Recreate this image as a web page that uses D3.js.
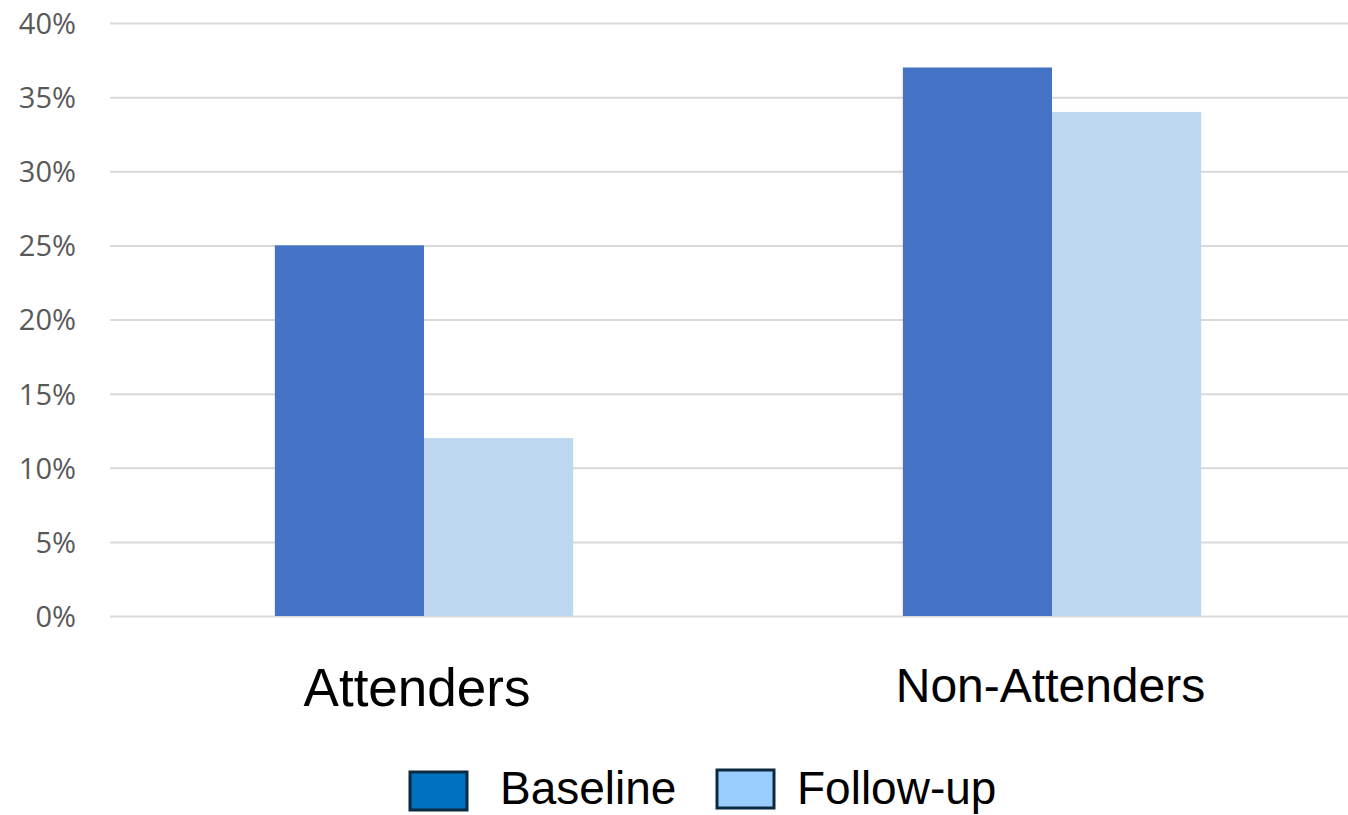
<!DOCTYPE html>
<html><head><meta charset="utf-8">
<script src="https://cdn.jsdelivr.net/npm/d3@7"></script>
<style>html,body{margin:0;padding:0;background:#fff;overflow:hidden}</style>
</head><body>
<svg id="c" width="1348" height="815"></svg>
<script>
const categories = ["Attenders", "Non-Attenders"];
const seriesNames = ["Baseline", "Follow-up"];
const baseline = [25, 37];
const followUp = [12, 34];
const yTicks = [0, 5, 10, 15, 20, 25, 30, 35, 40];

const svg = d3.select("#c");
const x = d3.scaleBand().domain(categories).range([110, 1366]).paddingInner(0.525).paddingOuter(0.2625);
const xs = d3.scaleBand().domain(seriesNames).range([0, x.bandwidth()]);
const y = d3.scaleLinear().domain([0, 40]).range([616, 23]);
const barColors = {"Baseline": "#4472C4", "Follow-up": "#BDD7EE"};
const legendColors = {"Baseline": "#0070C0", "Follow-up": "#99CCFF"};

// gridlines
const yAxis = d3.axisLeft(y).tickValues(yTicks).tickSize(-(1348 - 110)).tickFormat(d => d + "%").tickPadding(34);
const ga = svg.append("g").attr("transform", "translate(110,0)").call(yAxis);
ga.select(".domain").remove();
ga.selectAll(".tick line").attr("stroke", "#d9d9d9").attr("stroke-width", 2);
ga.selectAll(".tick text").attr("fill", "#595959").attr("font-family", "'Open Sans', sans-serif").attr("font-size", 29).attr("dy", "0.36em");

const data = categories.map((c, i) => ({cat: c, vals: [{s: "Baseline", v: baseline[i]}, {s: "Follow-up", v: followUp[i]}]}));
const g = svg.append("g");
g.selectAll("g.cat").data(data).join("g").attr("class", "cat")
  .attr("transform", d => `translate(${x(d.cat)},0)`)
  .selectAll("rect").data(d => d.vals).join("rect")
  .attr("x", d => xs(d.s)).attr("width", xs.bandwidth())
  .attr("y", d => y(d.v)).attr("height", d => y(0) - y(d.v))
  .attr("fill", d => barColors[d.s]);

// category labels
const labelStyle = {"Attenders": {y: 706, size: 53, dx: -7}, "Non-Attenders": {y: 702, size: 48, dx: -1.5}};
svg.selectAll("text.cat").data(categories).join("text").attr("class", "cat")
  .attr("x", d => x(d) + x.bandwidth() / 2 + labelStyle[d].dx).attr("y", d => labelStyle[d].y)
  .attr("text-anchor", "middle").attr("font-family", "'Liberation Sans', Arial, sans-serif")
  .attr("font-size", d => labelStyle[d].size).attr("fill", "#000").text(d => d);

// legend
const legendPos = [{s: "Baseline", bx: 410, by: 772, tx: 500, ty: 804}, {s: "Follow-up", bx: 717, by: 770, tx: 797, ty: 804}];
const lg = svg.append("g");
legendPos.forEach(p => {
  lg.append("rect").attr("x", p.bx).attr("y", p.by).attr("width", 57).attr("height", 38)
    .attr("fill", legendColors[p.s]).attr("stroke", "#0c2a3e").attr("stroke-width", 3);
  lg.append("text").attr("x", p.tx).attr("y", p.ty).attr("font-family", "'Liberation Sans', Arial, sans-serif")
    .attr("font-size", 46).attr("fill", "#000").text(p.s);
});
</script>
</body></html>
